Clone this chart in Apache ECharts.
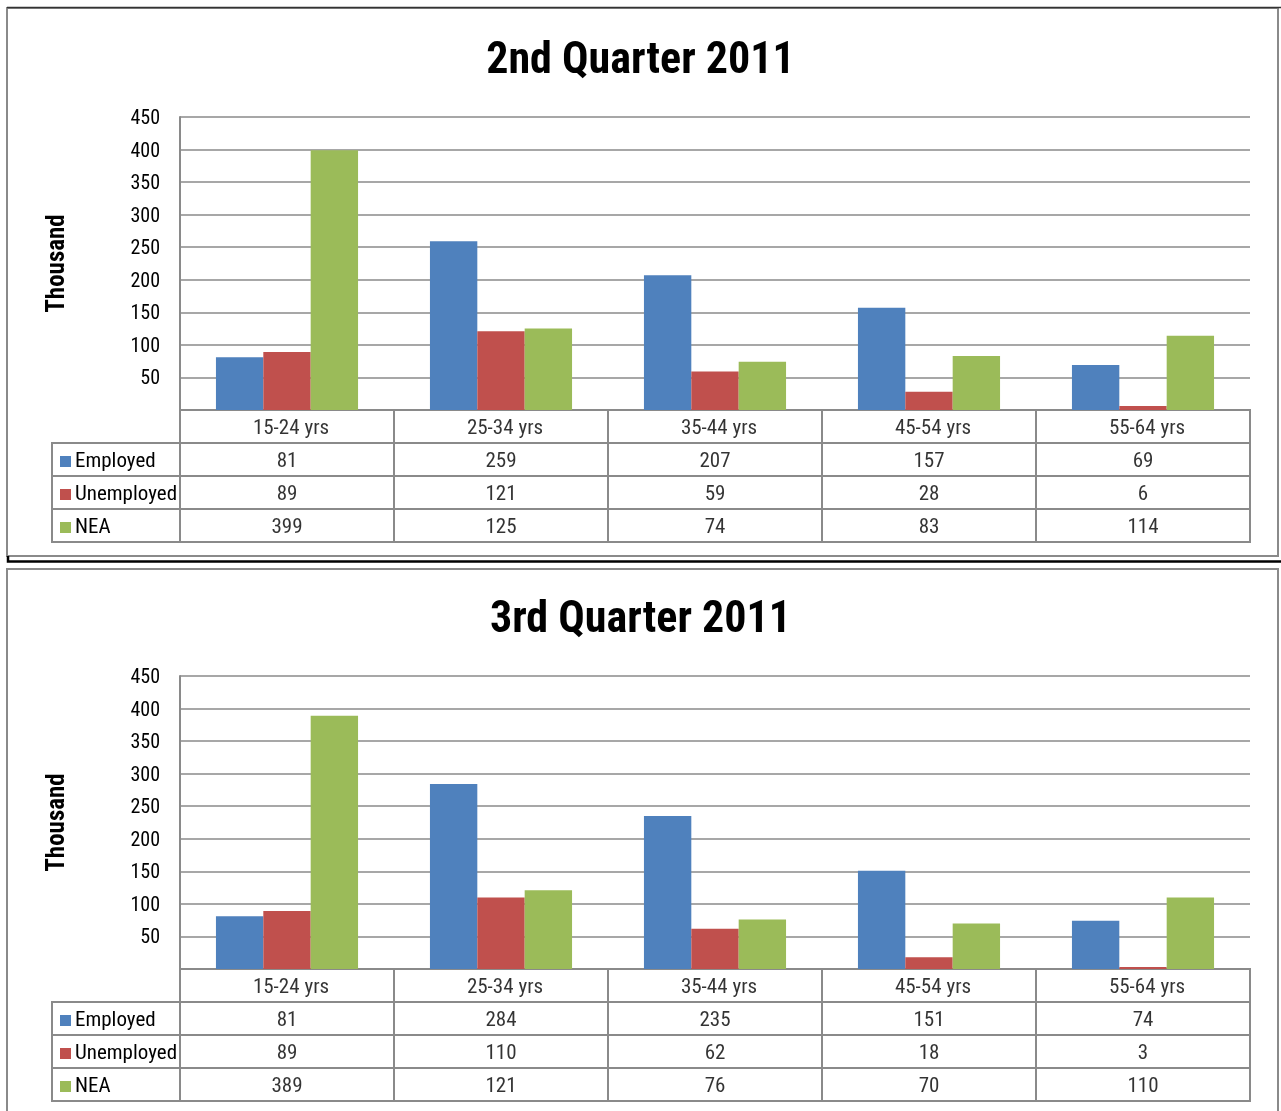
<!DOCTYPE html>
<html>
<head>
<meta charset="utf-8">
<script src="https://cdn.jsdelivr.net/npm/echarts@6/dist/echarts.min.js"></script>
<style>
  html, body { margin: 0; padding: 0; background: #ffffff; }
  #main { width: 1281px; height: 1111px; }
</style>
</head>
<body>
<div id="main"></div>
<script>
// Population by age group and labour-force status (thousand)
const categories = ['15-24 yrs', '25-34 yrs', '35-44 yrs', '45-54 yrs', '55-64 yrs'];
const seriesNames = ['Employed', 'Unemployed', 'NEA'];
const panelTitles = ['2nd Quarter 2011', '3rd Quarter 2011'];

const q2Employed = [81, 259, 207, 157, 69];
const q2Unemployed = [89, 121, 59, 28, 6];
const q2NEA = [399, 125, 74, 83, 114];

const q3Employed = [81, 284, 235, 151, 74];
const q3Unemployed = [89, 110, 62, 18, 3];
const q3NEA = [389, 121, 76, 70, 110];

const yMax = 450;
const yStep = 50;

const panels = [
  [q2Employed, q2Unemployed, q2NEA],
  [q3Employed, q3Unemployed, q3NEA]
];

const COLORS = ['#4F81BD', '#C0504D', '#9BBB59'];
const FONT = '"Liberation Sans Narrow", "Arial Narrow", "Roboto Condensed", sans-serif';
const LINE = '#8a8a8a';
const HEADER_ROW = 'age';

const grid = [], xAxis = [], yAxis = [], series = [], title = [];

panels.forEach((values, k) => {
  const oy = k * 559;
  const gPlot = grid.length;
  const rich = { t: { fontSize: 21, fontFamily: FONT, color: '#000', padding: [0, 0, 0, 4] } };
  COLORS.forEach((c, i) => { rich['s' + i] = { backgroundColor: c, width: 11, height: 11 }; });

  title.push({
    text: panelTitles[k], left: 'center', top: 35 + oy,
    textStyle: { fontSize: 44, fontWeight: 'bold', fontFamily: FONT, color: '#000' }
  });

  // bar plot area
  grid.push({ left: 180, top: 117 + oy, width: 1070, height: 293 });
  xAxis.push({
    type: 'category', gridIndex: gPlot, data: categories,
    axisLabel: { show: false }, axisTick: { show: false },
    axisLine: { show: true, lineStyle: { color: LINE, width: 2 } }
  });
  yAxis.push({
    type: 'value', gridIndex: gPlot, min: 0, max: yMax, interval: yStep,
    name: 'Thousand', nameLocation: 'middle', nameRotate: 90, nameGap: 110,
    nameTextStyle: { fontSize: 25, fontWeight: 'bold', fontFamily: FONT, color: '#000' },
    axisLine: { show: true, lineStyle: { color: LINE, width: 2 } },
    axisTick: { show: false },
    axisLabel: { margin: 20,
      formatter: v => (v === 0 ? '' : '{v|' + v + '}'),
      rich: { v: { fontSize: 20, fontFamily: FONT, color: '#000', padding: [4, 0, 0, 0] } } },
    splitLine: { show: true, lineStyle: { color: LINE, width: 1.5 } }
  });
  seriesNames.forEach((name, s) => {
    series.push({
      type: 'bar', name: name, xAxisIndex: xAxis.length - 1, yAxisIndex: yAxis.length - 1,
      data: values[s], barGap: '0%', barCategoryGap: '33.6%',
      itemStyle: { color: COLORS[s] }, silent: true
    });
  });

  // data table under the plot
  const gTable = grid.length;
  grid.push({ left: 180, top: 410 + oy, width: 1070, height: 132, show: true,
    borderColor: LINE, borderWidth: 2, backgroundColor: 'transparent' });
  xAxis.push({
    type: 'category', gridIndex: gTable, data: categories,
    axisLabel: { show: false }, axisTick: { show: false }, axisLine: { show: false },
    splitLine: { show: true, interval: 0, lineStyle: { color: LINE, width: 2 } }
  });
  yAxis.push({
    type: 'category', gridIndex: gTable, data: [HEADER_ROW].concat(seriesNames), inverse: true,
    axisLabel: { show: false }, axisTick: { show: false }, axisLine: { show: false },
    splitLine: { show: true, interval: 0, lineStyle: { color: LINE, width: 2 } }
  });
  const tx = xAxis.length - 1, ty = yAxis.length - 1;
  const cellLabel = { show: true, position: 'inside', fontSize: 21, fontFamily: FONT, color: '#000' };
  series.push({
    type: 'scatter', xAxisIndex: tx, yAxisIndex: ty, symbolSize: 1, silent: true,
    itemStyle: { color: 'transparent' },
    data: categories.map(c => [c, HEADER_ROW]),
    label: Object.assign({}, cellLabel, { formatter: p => p.value[0], offset: [4, 2] })
  });
  const cells = [];
  seriesNames.forEach((name, s) => {
    categories.forEach((c, i) => cells.push([c, name, values[s][i]]));
  });
  series.push({
    type: 'scatter', xAxisIndex: tx, yAxisIndex: ty, symbolSize: 1, silent: true,
    itemStyle: { color: 'transparent' }, data: cells,
    label: Object.assign({}, cellLabel, { formatter: p => String(p.value[2]), offset: [0, 2] })
  });

  // legend keys column of the table
  const gKey = grid.length;
  grid.push({ left: 52, top: 443 + oy, width: 128, height: 99, show: true,
    borderColor: LINE, borderWidth: 2, backgroundColor: 'transparent' });
  xAxis.push({ type: 'value', gridIndex: gKey, min: 0, max: 1, show: false });
  yAxis.push({
    type: 'category', gridIndex: gKey, data: seriesNames, inverse: true,
    axisLine: { show: false }, axisTick: { show: false },
    splitLine: { show: true, interval: 0, lineStyle: { color: LINE, width: 2 } },
    axisLabel: { inside: true, margin: 8, interval: 0, padding: [4, 0, 0, 0],
      formatter: (v, i) => '{s' + i + '|}{t|' + v + '}', rich: rich }
  });
});

const chart = echarts.init(document.getElementById('main'), null, { renderer: 'canvas' });
chart.setOption({
  animation: false,
  backgroundColor: '#ffffff',
  textStyle: { fontFamily: FONT },
  title: title,
  grid: grid,
  xAxis: xAxis,
  yAxis: yAxis,
  series: series,
  graphic: [
    { type: 'rect', shape: { x: 7, y: 8, width: 1271, height: 548 },
      style: { fill: 'transparent', stroke: LINE, lineWidth: 2 }, silent: true },
    { type: 'line', shape: { x1: 7, y1: 7.5, x2: 1281, y2: 7.5 },
      style: { stroke: '#333', lineWidth: 1.5 }, silent: true },
    { type: 'polyline', shape: { points: [[8, 556], [8, 561.5], [1281, 561.5]] },
      style: { stroke: '#000', lineWidth: 2.5, fill: null }, silent: true },
    { type: 'rect', shape: { x: 7, y: 569, width: 1271, height: 560 },
      style: { fill: 'transparent', stroke: LINE, lineWidth: 2 }, silent: true }
  ]
});
</script>
</body>
</html>
